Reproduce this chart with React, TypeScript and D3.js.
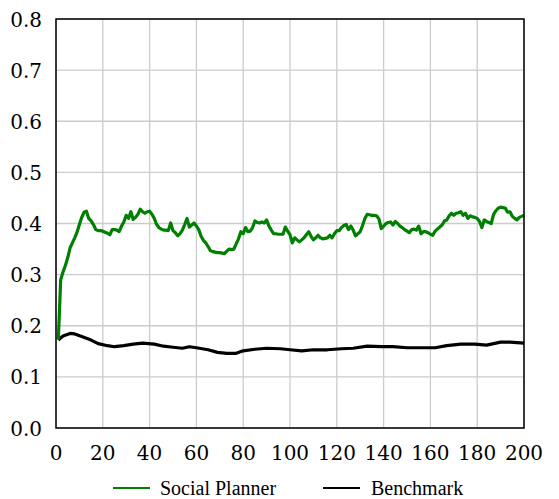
import React from "react";
import * as d3 from "d3";

// social planner, one value per period starting at period 1
const plannerValues = [
  0.173, 0.29, 0.305, 0.318, 0.333, 0.352, 0.362, 0.372, 0.383, 0.398,
  0.412, 0.422, 0.424, 0.41, 0.405, 0.398, 0.388, 0.386, 0.386, 0.385,
  0.383, 0.381, 0.378, 0.388, 0.388, 0.387, 0.384, 0.395, 0.403, 0.416,
  0.41, 0.423, 0.408, 0.412, 0.418, 0.428, 0.423, 0.42, 0.423, 0.424,
  0.418, 0.41, 0.398, 0.392, 0.389, 0.387, 0.387, 0.386, 0.401, 0.386,
  0.382, 0.376, 0.38, 0.387, 0.398, 0.41, 0.393, 0.397, 0.401, 0.395,
  0.388, 0.375, 0.367, 0.362, 0.355, 0.347, 0.345, 0.344, 0.343, 0.343,
  0.342, 0.341, 0.346, 0.35, 0.349, 0.35, 0.36, 0.37, 0.384, 0.38,
  0.392, 0.384, 0.385, 0.392, 0.405, 0.402, 0.401, 0.403, 0.401, 0.407,
  0.395, 0.387, 0.38, 0.38, 0.379, 0.379, 0.379, 0.393, 0.385, 0.378,
  0.362, 0.372, 0.368, 0.364, 0.368, 0.372, 0.378, 0.384, 0.375, 0.368,
  0.372, 0.377, 0.372, 0.37, 0.371, 0.372, 0.377, 0.372, 0.38, 0.386,
  0.386, 0.392, 0.396, 0.398, 0.388, 0.395, 0.387, 0.376, 0.38, 0.384,
  0.396, 0.41, 0.418, 0.417, 0.416, 0.416, 0.415, 0.409, 0.39, 0.395,
  0.4, 0.402, 0.403, 0.397, 0.404, 0.4, 0.395, 0.392, 0.388, 0.385,
  0.382, 0.388, 0.389, 0.387, 0.395, 0.38, 0.384, 0.384, 0.382, 0.379,
  0.377, 0.385, 0.389, 0.393, 0.397, 0.405, 0.407, 0.415, 0.42, 0.416,
  0.42, 0.421, 0.423, 0.416, 0.42, 0.41, 0.415, 0.413, 0.412, 0.41,
  0.404, 0.392, 0.407, 0.404, 0.402, 0.4, 0.418, 0.425, 0.43, 0.432,
  0.431, 0.43, 0.422, 0.423, 0.414, 0.41, 0.407, 0.412, 0.414, 0.416,
];

// benchmark, read at a coarser set of periods
const benchmarkPeriods = [
  1, 3, 6, 8, 11, 15, 18, 22, 25, 29, 33, 37, 42, 46, 50, 54, 57, 60, 65, 69,
  73, 77, 80, 85, 90, 96, 100, 105, 110, 116, 122, 127, 133, 139, 144, 150,
  156, 162, 167, 173, 179, 184, 190, 194, 200,
];
const benchmarkValues = [
  0.172, 0.18, 0.185, 0.184, 0.179, 0.172, 0.165, 0.161, 0.159, 0.161, 0.164,
  0.166, 0.164, 0.16, 0.158, 0.156, 0.159, 0.157, 0.153, 0.148, 0.146, 0.146,
  0.151, 0.154, 0.156, 0.155, 0.153, 0.151, 0.153, 0.153, 0.155, 0.156, 0.16,
  0.159, 0.159, 0.157, 0.157, 0.157, 0.161, 0.164, 0.164, 0.162, 0.168, 0.168,
  0.166,
];

const xTicks = [0, 20, 40, 60, 80, 100, 120, 140, 160, 180, 200];
const yTicks = [0, 0.1, 0.2, 0.3, 0.4, 0.5, 0.6, 0.7, 0.8];

const width = 559;
const height = 499;
const left = 56;
const right = 524;
const top = 19;
const bottom = 428;

export default function App() {
  const x = d3.scaleLinear().domain([0, 200]).range([left, right]);
  const y = d3.scaleLinear().domain([0, 0.8]).range([bottom, top]);

  const line = d3
    .line<[number, number]>()
    .x((d) => x(d[0]))
    .y((d) => y(d[1]));

  const planner: [number, number][] = plannerValues.map((v, i) => [i + 1, v]);
  const benchmark: [number, number][] = benchmarkPeriods.map((t, i) => [
    t,
    benchmarkValues[i],
  ]);

  return (
    <svg
      width={width}
      height={height}
      style={{ position: "absolute", left: 0, top: 0, background: "#fff" }}
      fontFamily="Liberation Serif, serif"
    >
      {/* grid */}
      {xTicks.map((t) => (
        <line key={"gx" + t} x1={x(t)} x2={x(t)} y1={top} y2={bottom} stroke="#cccccc" strokeWidth={1.3} />
      ))}
      {yTicks.map((t) => (
        <line key={"gy" + t} x1={left} x2={right} y1={y(t)} y2={y(t)} stroke="#cccccc" strokeWidth={1.3} />
      ))}

      <path d={line(benchmark) ?? ""} fill="none" stroke="#000" strokeWidth={3.2} strokeLinejoin="round" />
      <path d={line(planner) ?? ""} fill="none" stroke="#008000" strokeWidth={3.2} strokeLinejoin="round" />

      {/* frame */}
      <rect x={left} y={top} width={right - left} height={bottom - top} fill="none" stroke="#000" strokeWidth={1.5} />

      <g fontSize={20} fontFamily="DejaVu Serif">
        {yTicks.map((t) => (
          <text key={"ly" + t} x={42} y={y(t) + 7.5} textAnchor="end">
            {t.toFixed(1)}
          </text>
        ))}
        {xTicks.map((t) => (
          <text key={"lx" + t} x={x(t)} y={460} textAnchor="middle">
            {t}
          </text>
        ))}
      </g>

      {/* legend */}
      <g fontSize={20}>
        <line x1={113} x2={150} y1={488} y2={488} stroke="#008000" strokeWidth={2} />
        <text x={160} y={495}>Social Planner</text>
        <line x1={323} x2={360} y1={488} y2={488} stroke="#000" strokeWidth={2} />
        <text x={371} y={495}>Benchmark</text>
      </g>
    </svg>
  );
}
